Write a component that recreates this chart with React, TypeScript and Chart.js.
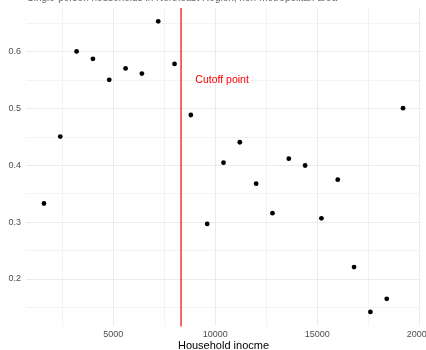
import React, { useEffect, useRef } from "react";
import { Chart, registerables } from "chart.js";

Chart.register(...registerables);

const incomes = [1600, 2400, 3200, 4000, 4800, 5600, 6400, 7200, 8000, 8800, 9600, 10400, 11200, 12000, 12800, 13600, 14400, 15200, 16000, 16800, 17600, 18400, 19200];
const shares = [0.333, 0.451, 0.601, 0.588, 0.551, 0.571, 0.562, 0.654, 0.579, 0.489, 0.297, 0.405, 0.441, 0.368, 0.316, 0.412, 0.400, 0.307, 0.375, 0.221, 0.142, 0.165, 0.501];
const xTicks = [2500, 5000, 7500, 10000, 12500, 15000, 17500, 20000];
const yTicks = [0.15, 0.2, 0.25, 0.3, 0.35, 0.4, 0.45, 0.5, 0.55, 0.6, 0.65];
const cutoff = 8320;
const cutoffLabel = "Cutoff point";
const cutoffLabelPos = { x: 10330, y: 0.55 };
const titleText = "Single-person households in Northeast Region, non-metropolitan area";
const xTitle = "Household inocme";

const FONT = "'Liberation Sans', Arial, sans-serif";

export default function App() {
  const ref = useRef<HTMLCanvasElement | null>(null);
  useEffect(() => {
    document.body.style.margin = "0";
    const canvas = ref.current!;
    const overlay = {
      id: "overlay",
      afterDatasetsDraw(chart: any) {
        const { ctx, scales, chartArea } = chart;
        const x = scales.x.getPixelForValue(cutoff);
        ctx.save();
        ctx.strokeStyle = "rgba(240, 45, 45, 0.9)";
        ctx.lineWidth = 1.6;
        ctx.beginPath();
        ctx.moveTo(x, chartArea.top);
        ctx.lineTo(x, chartArea.bottom);
        ctx.stroke();
        ctx.fillStyle = "#ff0000";
        ctx.font = `10.5px ${FONT}`;
        ctx.textAlign = "center";
        ctx.textBaseline = "middle";
        ctx.fillText(cutoffLabel, scales.x.getPixelForValue(cutoffLabelPos.x), scales.y.getPixelForValue(cutoffLabelPos.y));
        ctx.fillStyle = "#666666";
        ctx.font = `10px ${FONT}`;
        ctx.textAlign = "left";
        ctx.textBaseline = "alphabetic";
        ctx.fillText(titleText, 27, 1);
        ctx.restore();
      },
    };
    const chart = new Chart(canvas, {
      type: "scatter",
      data: {
        datasets: [
          {
            data: incomes.map((v, i) => ({ x: v, y: shares[i] })),
            backgroundColor: "#000000",
            borderColor: "#000000",
            pointRadius: 2.4,
            pointHoverRadius: 2.4,
            borderWidth: 0,
          },
        ],
      },
      options: {
        animation: false,
        responsive: false,
        events: [],
        layout: { padding: { top: 8, right: 5, left: 0, bottom: 0 } },
        plugins: { legend: { display: false }, tooltip: { enabled: false }, title: { display: false } },
        scales: {
          x: {
            type: "linear",
            min: 720,
            max: 20080,
            border: { display: false },
            afterBuildTicks: (s: any) => { s.ticks = xTicks.map((v) => ({ value: v })); },
            afterFit: (s: any) => { s.height = 23.6; s.paddingLeft = 0; s.paddingRight = 0; },
            grid: {
              drawTicks: false,
              color: (c: any) => (c.tick && c.tick.value % 5000 === 0 ? "#ebebeb" : "#f3f3f3"),
              lineWidth: 1,
            },
            ticks: {
              padding: 3,
              maxRotation: 0,
              autoSkip: false,
              color: "#4d4d4d",
              font: { family: FONT, size: 9 },
              callback: (v: any) => (v % 5000 === 0 ? String(v) : ""),
            },
            title: {
              display: true,
              text: xTitle,
              color: "#000000",
              font: { family: FONT, size: 11, lineHeight: 0.8 },
              padding: { top: 0, bottom: 0 },
            },
          },
          y: {
            type: "linear",
            min: 0.1165,
            max: 0.6775,
            border: { display: false },
            afterBuildTicks: (s: any) => { s.ticks = yTicks.map((v) => ({ value: v })); },
            afterFit: (s: any) => { s.width = 26; s.paddingTop = 0; s.paddingBottom = 0; },
            grid: {
              drawTicks: false,
              color: (c: any) => (c.tick && Math.abs(Math.round(c.tick.value * 10) - c.tick.value * 10) < 1e-6 ? "#ebebeb" : "#f3f3f3"),
              lineWidth: 1,
            },
            ticks: {
              padding: 5,
              autoSkip: false,
              color: "#4d4d4d",
              font: { family: FONT, size: 9 },
              callback: (v: any) => (Math.abs(Math.round(v * 10) - v * 10) < 1e-6 ? v.toFixed(1) : ""),
            },
          },
        },
      },
      plugins: [overlay],
    });
    return () => chart.destroy();
  }, []);
  return (
    <div style={{ position: "absolute", left: 0, top: 0, width: 426, height: 350 }}>
      <canvas ref={ref} width={426} height={350} style={{ width: 426, height: 350, display: "block" }} />
    </div>
  );
}
